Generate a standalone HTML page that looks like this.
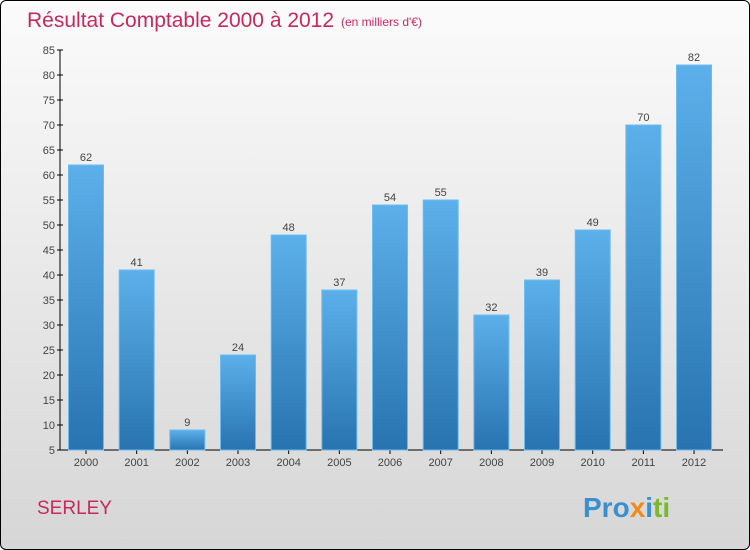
<!DOCTYPE html>
<html><head><meta charset="utf-8"><style>
body{margin:0}
#c{position:relative;width:748px;height:548px;border:1px solid #000;border-radius:6px;overflow:hidden;background:linear-gradient(#fbfbfb,#d6d6d6);font-family:"Liberation Sans",sans-serif}
</style></head><body>
<div id="c">
<svg width="748" height="548" id="s">
<defs><linearGradient id="g" x1="0" y1="0" x2="0" y2="1"><stop offset="0" stop-color="#5cb0ea"/><stop offset="1" stop-color="#2873b0"/></linearGradient></defs>
<text x="26" y="26" font-size="21" fill="#c8285e">Résultat Comptable 2000 à 2012</text>
<text x="340" y="25" font-size="12" fill="#c8285e">(en milliers d'€)</text>
<text x="36" y="513" font-size="19" fill="#c8285e">SERLEY</text>
<text x="582" y="516" font-size="28" font-weight="bold"><tspan fill="#3a8fd0">Pro</tspan><tspan fill="#f08a1c">x</tspan><tspan fill="#3a8fd0">i</tspan><tspan fill="#7ab830">ti</tspan></text>
<g id="ax"></g><g id="bars"></g>
</svg></div>
<script>
const categories=["2000","2001","2002","2003","2004","2005","2006","2007","2008","2009","2010","2011","2012"];
const values=[62,41,9,24,48,37,54,55,32,39,49,70,82];
const ticks=[5,10,15,20,25,30,35,40,45,50,55,60,65,70,75,80,85];
const NS="http://www.w3.org/2000/svg";
const y=v=>449-(v-5)*5;
const x=i=>85+i*50.67;
function mk(t,a,p,txt){const e=document.createElementNS(NS,t);for(const k in a)e.setAttribute(k,a[k]);if(txt!==undefined)e.textContent=txt;p.appendChild(e);return e;}
const ax=document.getElementById('ax'),bg=document.getElementById('bars');
let l=mk('line',{x1:59,y1:49,x2:59,y2:449,stroke:'#000'},ax);


l=mk('line',{x1:59,y1:449,x2:722,y2:449,stroke:'#000'},ax);


ticks.forEach(t=>{
 mk('line',{x1:56,x2:62,y1:y(t),y2:y(t),stroke:'#000'},ax);
 const e=mk('text',{x:54,y:y(t)+4,'font-size':11,fill:'#444','text-anchor':'end'},ax,t);
 
 
});
categories.forEach((c,i)=>{
 mk('line',{x1:x(i),x2:x(i),y1:449,y2:453,stroke:'#000'},ax);
 const e=mk('text',{x:x(i),y:465,'font-size':11,fill:'#444','text-anchor':'middle'},ax,c);
 
 
 const b=mk('rect',{x:x(i)-17.5,y:y(values[i]),width:35,height:449-y(values[i]),fill:'url(#g)',stroke:'#6bbcf0','stroke-width':1},bg);
 
 
 const v=mk('text',{x:x(i),y:y(values[i])-4,'font-size':11,fill:'#444','text-anchor':'middle'},bg,values[i]);
 
 
});
</script>
</body></html>
